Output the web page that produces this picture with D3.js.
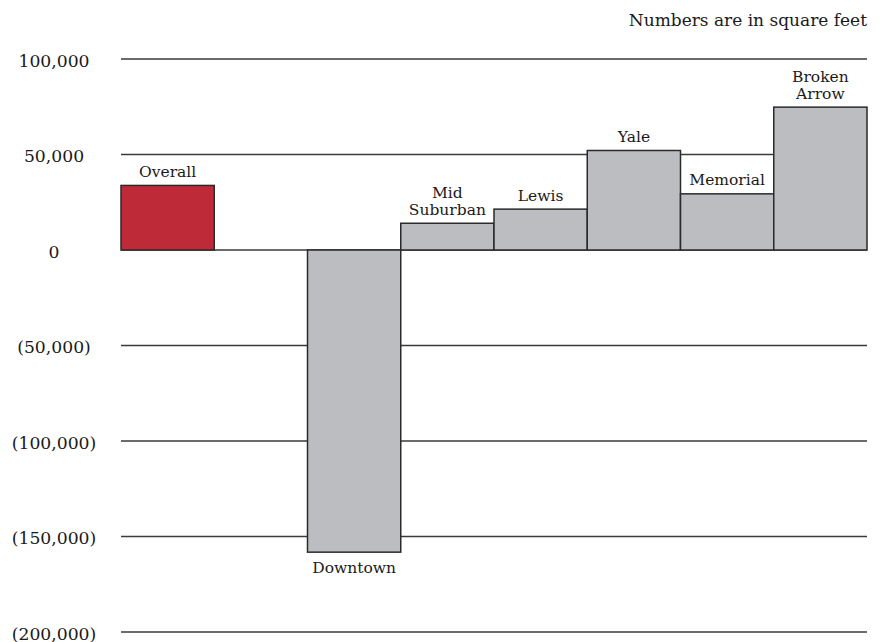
<!DOCTYPE html>
<html>
<head>
<meta charset="utf-8">
<script src="https://cdn.jsdelivr.net/npm/d3@7"></script>
<style>
  html, body { margin: 0; padding: 0; background: #fff; }
  svg { display: block; }
  text { font-family: "DejaVu Serif", "Liberation Serif", serif; fill: #1a1a1a; }
</style>
</head>
<body>
<svg id="chart" width="883" height="642"></svg>
<script>
// ---- data ----
const categories = ["Overall", "", "Downtown", "Mid Suburban", "Lewis", "Yale", "Memorial", "Broken Arrow"];
const values     = [33800, null, -158200, 14000, 21400, 52100, 29400, 74800];
const labelLines = [["Overall"], [], ["Downtown"], ["Mid", "Suburban"], ["Lewis"], ["Yale"], ["Memorial"], ["Broken", "Arrow"]];
const tickValues = [100000, 50000, 0, -50000, -100000, -150000, -200000];
const tickLabels = ["100,000", "50,000", "0", "(50,000)", "(100,000)", "(150,000)", "(200,000)"];
const note = "Numbers are in square feet";

// ---- layout ----
const svg = d3.select("#chart");
const keys = categories.map((c, i) => "k" + i);
const x = d3.scaleBand().domain(keys).range([121, 867]).padding(0);
const y = d3.scaleLinear().domain([-200000, 100000]).range([632, 59]);

// gridlines
svg.append("g").selectAll("line").data(tickValues).join("line")
  .attr("x1", 121).attr("x2", 867)
  .attr("y1", d => y(d)).attr("y2", d => y(d))
  .attr("stroke", "#3a3a3a").attr("stroke-width", 1.4);

// tick labels (centered)
svg.append("g").selectAll("text").data(tickValues).join("text")
  .attr("x", 54).attr("y", d => y(d) + 1.5)
  .attr("text-anchor", "middle").attr("dominant-baseline", "central")
  .attr("font-size", 17.2)
  .text((d, i) => tickLabels[i]);

// bars
const data = categories.map((c, i) => ({ key: keys[i], v: values[i], lines: labelLines[i], i }))
  .filter(d => d.v !== null);

svg.append("g").selectAll("rect").data(data).join("rect")
  .attr("x", d => x(d.key))
  .attr("width", x.bandwidth())
  .attr("y", d => y(Math.max(0, d.v)))
  .attr("height", d => Math.abs(y(d.v) - y(0)))
  .attr("fill", d => d.i === 0 ? "#bf2a38" : "#bcbdc0")
  .attr("stroke", "#2a2a2a").attr("stroke-width", 1.5);

// labels
const lh = 16.5;
const lab = svg.append("g").selectAll("text").data(data).join("text")
  .attr("text-anchor", "middle").attr("font-size", 15.5)
  .attr("x", d => x(d.key) + x.bandwidth() / 2)
  .attr("y", d => d.v >= 0 ? y(d.v) - 8.5 - (d.lines.length - 1) * lh : y(d.v) + 21);
lab.selectAll("tspan").data(d => d.lines.map((t, j) => ({ t, j, d }))).join("tspan")
  .attr("x", o => x(o.d.key) + x.bandwidth() / 2)
  .attr("dy", o => o.j === 0 ? 0 : lh)
  .text(o => o.t);

// note
svg.append("text").attr("x", 867).attr("y", 26).attr("text-anchor", "end")
  .attr("font-size", 17).text(note);
</script>
</body>
</html>
